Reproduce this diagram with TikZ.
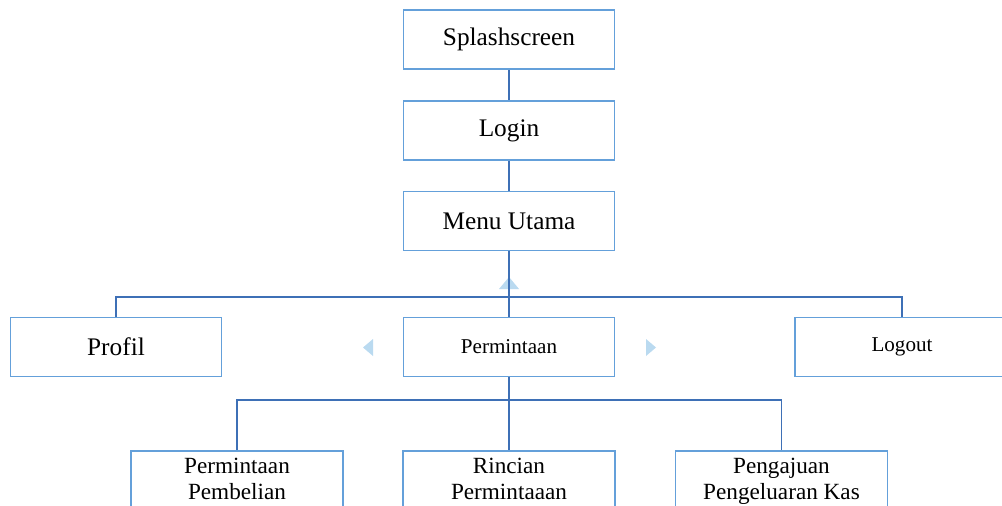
\documentclass[tikz,border=0pt]{standalone}
\usepackage{fontspec}
\setmainfont{Liberation Serif}
\usepackage{xcolor}
\definecolor{boxBlue}{RGB}{100,160,218}
\definecolor{lineBlue}{RGB}{62,112,182}
\definecolor{arrowBlue}{RGB}{186,218,240}

\tikzset{
  menubox/.style={draw=boxBlue,line width=1.2pt,minimum width=5.275cm,minimum height=1.475cm,inner sep=0pt},
  bigtext/.style={font=\fontsize{18}{21.6}\selectfont},
  smalltext/.style={font=\fontsize{15}{18}\selectfont},
  subbox/.style={draw=boxBlue,line width=1.2pt,minimum width=5.3cm,anchor=north,align=center,
    text depth=1.2cm,inner xsep=0pt,inner ysep=0.175cm,font=\fontsize{16.5}{18.5}\selectfont},
  link/.style={draw=lineBlue,line width=1.2pt},
}

\begin{document}
\begin{tikzpicture}[x=0.025cm,y=-0.025cm]
            \useasboundingbox (0,0) rectangle (1002,506);

            % Main flow
            \node[menubox,bigtext] (splash) at (509,39.5) {Splashscreen};
            \node[menubox,bigtext] (login) at (509,130.5) {Login};
            \node[menubox,bigtext] (menu) at (509,221) {Menu Utama};

            % Menu items
            \node[menubox,bigtext] (profil) at (116,347) {Profil};
            \node[menubox,smalltext] (minta) at (509,347) {Permintaan};
            \node[menubox,smalltext,minimum width=5.35cm] (logout) at (902,347) {Logout};

            % Sub items
            \node[subbox] (beli) at (237,450) {Permintaan\\Pembelian};
            \node[subbox] (rincian) at (509,450) {Rincian\\Permintaaan};
            \node[subbox] (kas) at (781.5,450) {Pengajuan\\Pengeluaran Kas};

            % Markers
            \fill[arrowBlue] (499,289) -- (519,289) -- (509,277) -- cycle;
            \fill[arrowBlue] (373,339) -- (373,356) -- (363,347.5) -- cycle;
            \fill[arrowBlue] (646,339) -- (646,356) -- (656,347.5) -- cycle;

            % Connections
            \coordinate (bus) at (509,297);
            \coordinate (subbus) at (509,400);
            \draw[link] (splash) -- (login);
            \draw[link] (login) -- (menu);
            \draw[link] (menu.south) -- (bus);
            \draw[link] (profil.north) -- (profil.north |- bus) -- (logout.north |- bus) -- (logout.north);
            \draw[link] (bus) -- (minta.north);
            \draw[link] (minta.south) -- (subbus);
            \draw[link] (beli.north) -- (beli.north |- subbus) -- (kas.north |- subbus) -- (kas.north);
            \draw[link] (subbus) -- (rincian.north);
        \end{tikzpicture}
\end{document}
